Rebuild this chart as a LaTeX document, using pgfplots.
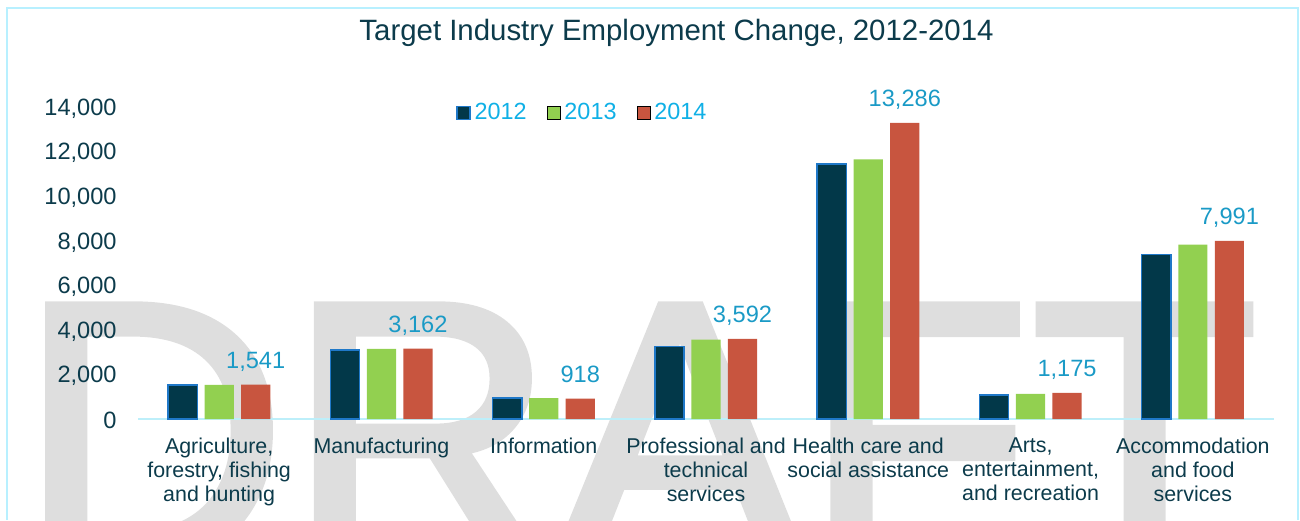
\documentclass[border=0pt]{standalone}
\usepackage{fontspec}
\setmainfont{Liberation Sans}
\newfontfamily\wmfont[FakeBold=2]{Liberation Sans}
\usepackage{pgfplots}
\pgfplotsset{compat=1.18}
\definecolor{c12}{HTML}{023849}
\definecolor{c12e}{HTML}{1F78C8}
\definecolor{c13}{HTML}{92D050}
\definecolor{c14}{HTML}{C8553F}
\definecolor{tdark}{HTML}{0C3B4B}
\definecolor{leg}{HTML}{10B0E6}
\definecolor{lab}{HTML}{1A9AC6}
\definecolor{axl}{HTML}{BDEFFA}
\definecolor{framec}{HTML}{B8F0FF}
\definecolor{wm}{HTML}{DEDEDE}
\begin{document}
\begin{tikzpicture}
\useasboundingbox (0,0) rectangle (650pt,260pt);
\begin{scope}
\clip (0,0) rectangle (650pt,260pt);
\node[anchor=base west, inner sep=0pt, text=wm, font=\wmfont\fontsize{186pt}{186pt}\selectfont] at (9pt,-20.5pt) {DRAFT};
\end{scope}
\draw[framec, line width=1pt] (3.5pt,0) -- (3.5pt,255.75pt) -- (649pt,255.75pt) -- (649pt,0);
\node[text=tdark, font=\fontsize{14.7pt}{17pt}\selectfont] at (338.25pt,243.5pt) {Target Industry Employment Change, 2012-2014};
\begin{axis}[
  at={(69pt,50.5pt)}, anchor=south west,
  scale only axis, width=568pt, height=156pt,
  xmin=-0.5, xmax=6.5, ymin=0, ymax=14000,
  axis x line*=bottom, axis y line*=left,
  x axis line style={draw=axl, line width=1pt, -},
  y axis line style={draw=none},
  major tick style={draw=none},
  xtick={0,1,2,3,4,5,6},
  xticklabels={{Agriculture,\\forestry, fishing\\and hunting},{Manufacturing},{Information},{Professional and\\technical\\services},{Health care and\\social assistance},{Arts,\\entertainment,\\and recreation},{Accommodation\\and food\\services}},
  xticklabel style={font=\fontsize{10.7pt}{12pt}\selectfont, text=tdark, align=center, yshift=-1.5pt},
  ytick={0,2000,...,14000},
  scaled y ticks=false,
  /pgf/number format/1000 sep={,},
  /pgf/number format/assume math mode=true,
  yticklabel style={font=\fontsize{11.8pt}{14pt}\selectfont, text=tdark, inner sep=0pt, xshift=-10.5pt, yshift=-0.8pt},
  ybar, bar width=0.18,
  clip=false,
  legend style={at={(0.392,0.98)}, anchor=center, draw=none, fill=none, legend columns=-1,
    font=\fontsize{11.7pt}{14pt}\selectfont, text=leg,
    /tikz/every even column/.append style={column sep=8pt}},
  legend image code/.code={\draw[#1] (0pt,-3.25pt) rectangle (6.5pt,3.25pt);},
]
\addplot[fill=c12, draw=c12e, line width=0.7pt, bar shift=-0.225] coordinates {(0,1520) (1,3095) (2,935) (3,3248) (4,11440) (5,1080) (6,7375)};
\addplot[fill=c13, draw=none, bar shift=0] coordinates {(0,1535) (1,3150) (2,935) (3,3565) (4,11650) (5,1125) (6,7825)};
\addplot[fill=c14, draw=none, bar shift=0.225, nodes near coords,
  nodes near coords style={text=lab, font=\fontsize{11.8pt}{14pt}\selectfont, anchor=base, yshift=8pt, /pgf/number format/1000 sep={,}}]
  coordinates {(0,1541) (1,3162) (2,918) (3,3592) (4,13286) (5,1175) (6,7991)};
\legend{2012,2013,2014}
\end{axis}
\end{tikzpicture}
\end{document}
